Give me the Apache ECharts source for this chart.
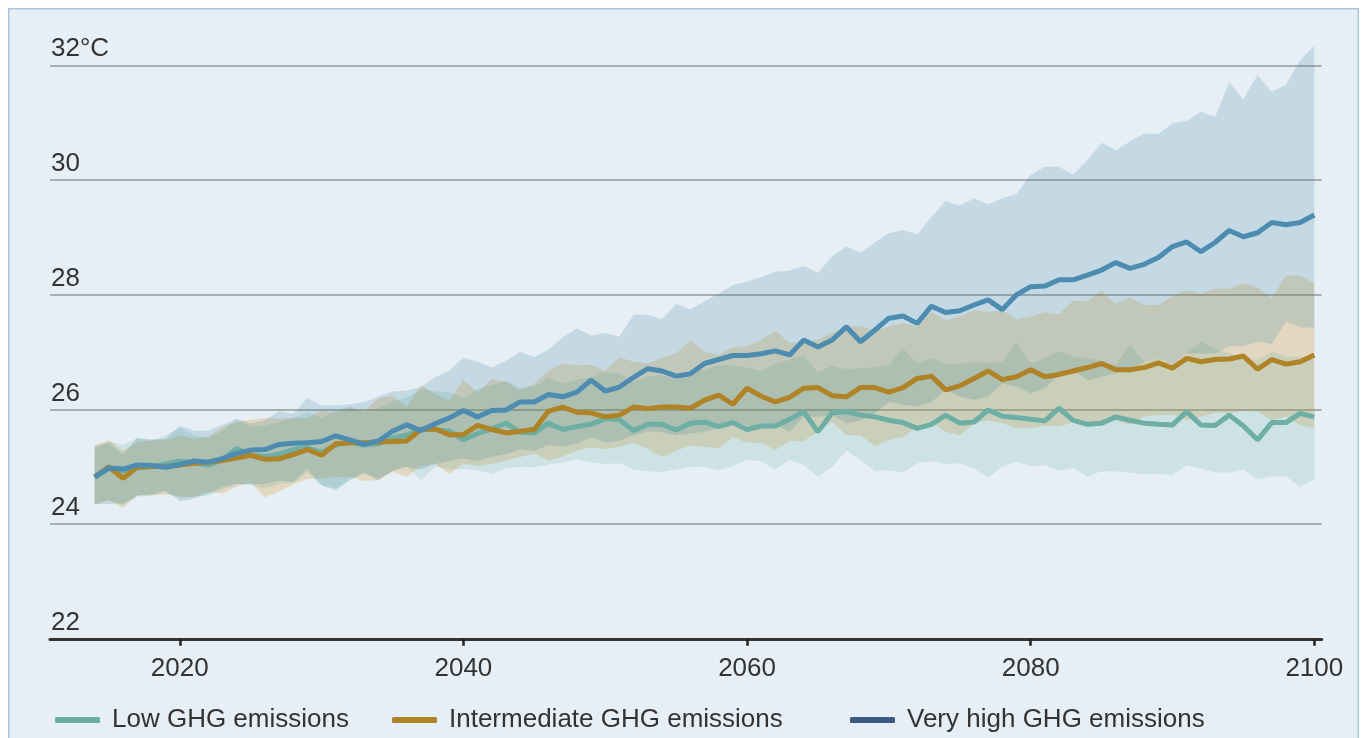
<!DOCTYPE html>
<html><head><meta charset="utf-8">
<script src="https://cdn.jsdelivr.net/npm/echarts@6/dist/echarts.min.js"></script>
<style>
html,body{margin:0;padding:0;background:#fff;width:1362px;height:738px;overflow:hidden;}
#chart{position:absolute;left:0;top:0;width:1362px;height:738px;}
</style></head><body>
<div id="chart"></div>
<script>
const YEARS = Array.from({length: 87}, (_, i) => 2014 + i);
const X_TICKS = [2020, 2040, 2060, 2080, 2100];
const Y_TICKS_UNIT = '°C';

const LOW_MEAN = [
 24.82,24.97,24.93,24.98,25.00,25.05,25.10,25.07,25.03,25.12,
 25.32,25.20,25.18,25.22,25.30,25.33,25.25,25.38,25.43,25.38,
 25.40,25.50,25.55,25.66,25.65,25.62,25.47,25.58,25.66,25.76,
 25.60,25.59,25.76,25.65,25.70,25.74,25.84,25.82,25.63,25.74,
 25.74,25.64,25.76,25.78,25.70,25.77,25.65,25.71,25.71,25.83,
 25.96,25.61,25.94,25.96,25.90,25.87,25.81,25.77,25.67,25.74,
 25.90,25.76,25.78,25.99,25.88,25.86,25.83,25.80,26.02,25.81,
 25.74,25.76,25.87,25.81,25.76,25.74,25.73,25.96,25.73,25.72,
 25.90,25.71,25.47,25.77,25.77,25.93,25.87];
const LOW_UPPER = [
 25.30,25.45,25.38,25.50,25.45,25.55,25.68,25.55,25.50,25.62,
 25.82,25.70,25.72,25.78,25.85,25.95,25.85,25.98,26.05,25.95,
 26.02,26.15,26.20,26.35,26.32,26.30,26.20,26.35,26.42,26.50,
 26.38,26.40,26.55,26.45,26.52,26.55,26.65,26.62,26.48,26.58,
 26.60,26.52,26.65,26.69,26.77,26.77,26.73,26.67,26.80,26.86,
 26.95,26.64,26.76,26.70,26.72,26.73,26.78,27.06,26.81,26.89,
 26.80,26.79,26.83,26.81,26.83,27.18,26.80,26.89,27.01,26.92,
 26.89,26.85,26.77,27.12,26.83,26.89,26.72,26.98,27.18,27.06,
 26.98,26.89,26.86,27.01,26.92,26.92,26.87];
const LOW_LOWER = [
 24.35,24.42,24.33,24.48,24.50,24.55,24.45,24.48,24.50,24.60,
 24.70,24.68,24.62,24.70,24.72,24.90,24.68,24.62,24.78,24.88,
 24.80,24.92,25.00,24.77,25.00,24.95,24.96,24.94,24.88,24.98,
 25.00,24.99,25.04,25.08,25.12,25.08,25.05,25.06,24.95,24.92,
 24.91,24.95,25.00,25.00,24.94,25.01,25.12,25.09,24.95,25.12,
 25.03,24.83,25.00,25.28,25.12,24.93,24.94,24.90,25.06,25.10,
 25.05,25.06,24.97,24.81,25.01,25.09,25.01,25.03,24.93,24.98,
 24.83,24.92,24.92,24.90,24.87,24.88,24.85,25.03,24.97,24.90,
 24.90,24.95,24.78,24.83,24.83,24.65,24.78];

const MID_MEAN = [
 24.82,25.00,24.80,24.99,25.01,25.00,25.03,25.06,25.08,25.11,
 25.15,25.20,25.13,25.14,25.21,25.30,25.20,25.40,25.42,25.42,
 25.43,25.44,25.45,25.65,25.66,25.56,25.56,25.72,25.65,25.59,
 25.62,25.65,25.97,26.04,25.95,25.94,25.87,25.90,26.04,26.01,
 26.04,26.04,26.02,26.16,26.25,26.09,26.37,26.23,26.13,26.21,
 26.37,26.38,26.24,26.22,26.38,26.38,26.30,26.38,26.54,26.58,
 26.34,26.41,26.54,26.67,26.52,26.57,26.69,26.57,26.61,26.67,
 26.73,26.80,26.69,26.69,26.73,26.81,26.72,26.89,26.83,26.87,
 26.88,26.93,26.70,26.87,26.79,26.83,26.95];
const MID_UPPER = [
 25.37,25.46,25.28,25.43,25.46,25.46,25.55,25.49,25.52,25.69,
 25.78,25.82,25.85,25.84,25.85,25.85,25.98,25.95,26.03,25.97,
 26.19,26.24,26.04,26.42,26.27,26.16,26.52,26.30,26.53,26.48,
 26.33,26.45,26.68,26.80,26.77,26.78,26.68,26.91,26.83,26.80,
 26.90,26.98,27.20,27.01,26.95,27.09,27.10,27.22,27.37,27.16,
 27.16,27.22,27.34,27.44,27.45,27.38,27.44,27.51,27.44,27.70,
 27.56,27.62,27.73,27.70,27.73,27.57,27.62,27.70,27.66,27.90,
 27.88,28.07,27.84,27.95,27.82,27.82,27.97,28.08,28.01,28.11,
 28.11,28.20,28.13,27.94,28.34,28.33,28.20];
const MID_LOWER = [
 24.33,24.42,24.28,24.50,24.50,24.52,24.48,24.47,24.56,24.53,
 24.65,24.72,24.47,24.57,24.69,24.79,24.79,24.82,24.82,24.75,
 24.77,24.91,24.82,25.01,25.05,24.88,25.05,25.02,25.05,25.11,
 25.17,25.23,25.11,25.18,25.28,25.34,25.31,25.35,25.41,25.31,
 25.17,25.28,25.37,25.35,25.32,25.52,25.42,25.42,25.29,25.45,
 25.45,25.61,25.78,25.55,25.55,25.36,25.47,25.52,25.70,25.78,
 25.61,25.55,25.76,25.81,25.76,25.67,25.67,25.71,25.70,25.77,
 25.78,25.77,25.81,25.73,25.88,25.90,25.91,25.81,25.87,25.94,
 25.93,25.98,25.96,25.81,25.87,25.73,25.67];

const HIGH_MEAN = [
 24.82,24.98,24.96,25.03,25.02,24.99,25.04,25.10,25.08,25.14,
 25.23,25.29,25.30,25.39,25.41,25.42,25.44,25.54,25.47,25.39,
 25.45,25.62,25.73,25.63,25.75,25.85,25.98,25.87,25.98,25.99,
 26.13,26.13,26.26,26.22,26.30,26.51,26.32,26.39,26.56,26.71,
 26.67,26.58,26.62,26.80,26.87,26.94,26.94,26.97,27.02,26.95,
 27.21,27.09,27.21,27.44,27.18,27.38,27.59,27.63,27.50,27.80,
 27.69,27.72,27.82,27.91,27.74,28.00,28.14,28.15,28.26,28.26,
 28.34,28.43,28.56,28.46,28.53,28.65,28.84,28.92,28.75,28.91,
 29.12,29.01,29.08,29.26,29.22,29.26,29.39];
const HIGH_UPPER = [
 25.37,25.41,25.22,25.50,25.48,25.49,25.71,25.63,25.63,25.73,
 25.84,25.75,25.81,25.97,25.92,26.20,26.07,26.07,26.09,26.13,
 26.22,26.31,26.33,26.39,26.56,26.68,26.90,26.83,26.73,26.85,
 27.00,26.91,27.04,27.26,27.41,27.29,27.33,27.27,27.65,27.65,
 27.57,27.84,27.74,27.88,28.02,28.17,28.23,28.31,28.40,28.42,
 28.50,28.38,28.67,28.84,28.73,28.91,29.07,29.13,29.05,29.36,
 29.63,29.55,29.68,29.58,29.68,29.76,30.09,30.23,30.23,30.09,
 30.35,30.65,30.52,30.67,30.81,30.80,30.99,31.03,31.19,31.10,
 31.70,31.41,31.83,31.54,31.66,32.09,32.34];
const HIGH_LOWER = [
 24.35,24.35,24.36,24.50,24.52,24.59,24.40,24.44,24.53,24.65,
 24.70,24.70,24.70,24.76,24.73,24.97,24.67,24.59,24.76,24.91,
 24.76,24.94,25.00,24.95,25.05,25.10,25.15,25.10,25.18,25.22,
 25.30,25.28,25.38,25.35,25.40,25.52,25.42,25.45,25.55,25.62,
 25.60,25.55,25.58,25.61,25.67,25.78,25.73,25.67,25.73,25.61,
 25.87,25.87,25.90,25.76,25.81,25.93,26.13,26.08,26.05,26.13,
 26.34,26.22,26.17,26.22,26.45,26.40,26.28,26.37,26.60,26.69,
 26.51,26.57,26.63,26.69,26.83,26.89,26.77,26.98,26.97,26.98,
 27.10,27.10,27.18,27.14,27.53,27.43,27.43];

const NAMES = ['Low GHG emissions', 'Intermediate GHG emissions', 'Very high GHG emissions'];
const FONT = "'Liberation Sans', Arial, sans-serif";
const TXT = '#333333';

// One polygon per band, every vertex placed through the axes' scales (api.coord).
function bandSeries(id, lower, upper, color) {
  return {
    type: 'custom', name: id + '_band', silent: true, z: 1, clip: false,
    data: YEARS.map((y, i) => [y, lower[i], upper[i]]),
    encode: { x: 0, y: [1, 2] },
    renderItem: function (params, api) {
      if (params.dataIndex !== 0) return null;
      const top = [], bottom = [];
      for (let i = 0; i < YEARS.length; i++) {
        top.push(api.coord([YEARS[i], upper[i]]));
        bottom.push(api.coord([YEARS[i], lower[i]]));
      }
      const pts = top.concat(bottom.reverse());
      return { type: 'polygon', shape: { points: pts }, style: { fill: color } };
    }
  };
}
function lineSeries(name, values, color) {
  return { type: 'line', name: name, data: YEARS.map((y, i) => [y, values[i]]), symbol: 'none',
    lineStyle: { color: color, width: 5 }, itemStyle: { color: color }, clip: false, z: 3, silent: true };
}
function legendAt(left, name, color) {
  return { left: left, top: 702, itemWidth: 45, itemHeight: 6, selectedMode: false,
    data: [{ name: name, icon: 'roundRect', itemStyle: { color: color } }],
    textStyle: { fontSize: 26, color: TXT, fontFamily: FONT, padding: [0, 0, 0, 7], lineHeight: 26 } };
}

const chart = echarts.init(document.getElementById('chart'), null, { renderer: 'canvas' });
chart.setOption({
  animation: false,
  backgroundColor: 'transparent',
  graphic: [{
    type: 'rect', z: -100, silent: true,
    shape: { x: 8.75, y: 8.75, width: 1349.5, height: 760 },
    style: { fill: '#e6eef6', stroke: '#a8c7db', lineWidth: 1.5 }
  }],
  grid: { left: 50, right: 40.3, top: 65.3, bottom: 99.2, containLabel: false },
  xAxis: {
    type: 'value', min: 2010.85, max: 2100.52,
    splitLine: { show: false },
    axisLine: { lineStyle: { color: '#333', width: 3 } },
    axisTick: { customValues: X_TICKS, length: 7, lineStyle: { color: '#222', width: 2.5 } },
    axisLabel: { customValues: X_TICKS, margin: 17, fontSize: 26, color: TXT, fontFamily: FONT,
      formatter: v => String(v) }
  },
  yAxis: {
    type: 'value', min: 22, max: 32, interval: 2,
    axisLine: { show: false }, axisTick: { show: false },
    splitLine: { lineStyle: { color: '#a9aeb3', width: 2 } },
    axisLabel: { inside: true, margin: 1, align: 'left', verticalAlign: 'bottom', padding: [0, 0, 3, 0],
      fontSize: 26, color: TXT, fontFamily: FONT,
      formatter: v => v === 32 ? v + Y_TICKS_UNIT : String(v) }
  },
  legend: [
    legendAt(50, NAMES[0], '#6aada1'),
    legendAt(387, NAMES[1], '#b08327'),
    legendAt(845, NAMES[2], '#3e5a84')
  ],
  series: [
    bandSeries('mid', MID_LOWER, MID_UPPER, 'rgba(212,143,10,0.22)'),
    bandSeries('low', LOW_LOWER, LOW_UPPER, 'rgba(63,158,126,0.15)'),
    bandSeries('high', HIGH_LOWER, HIGH_UPPER, 'rgba(24,113,140,0.16)'),
    lineSeries(NAMES[0], LOW_MEAN, '#6dafa4'),
    lineSeries(NAMES[1], MID_MEAN, '#b08327'),
    lineSeries(NAMES[2], HIGH_MEAN, '#4b8cb0')
  ]
});
</script>
</body></html>
